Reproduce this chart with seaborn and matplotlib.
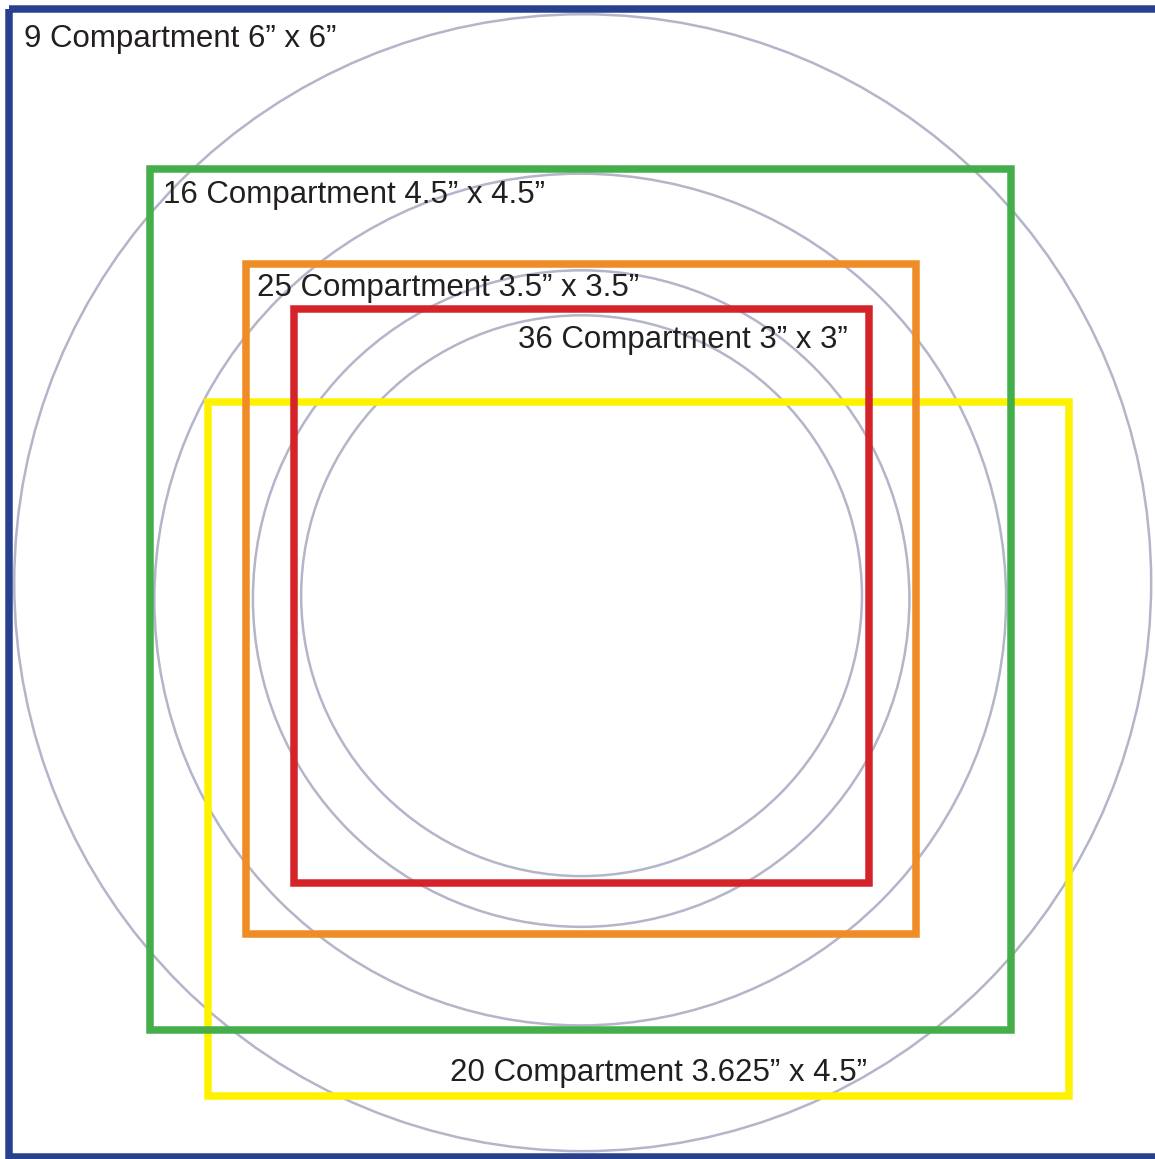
import matplotlib
matplotlib.use("Agg")
import matplotlib.pyplot as plt
from matplotlib.patches import Rectangle, Circle
import seaborn as sns

sns.set_theme(style="white")
plt.rcParams['font.family'] = ['Liberation Sans', 'DejaVu Sans']

# TRAY LAYOUTS (inches)
labels = ['9 Compartment 6\u201d x 6\u201d',
          '16 Compartment 4.5\u201d x 4.5\u201d',
          '25 Compartment 3.5\u201d x 3.5\u201d',
          '36 Compartment 3\u201d x 3\u201d',
          '20 Compartment 3.625\u201d x 4.5\u201d']
widths = [6.0, 4.5, 3.5, 3.0, 4.5]
heights = [6.0, 4.5, 3.5, 3.0, 3.625]
circle_diams = [5.94, 4.45, 3.43, 2.93]

# LAYOUT: CENTRE OF EACH OUTLINE AND LABEL ANCHORS
centres = [(3.0, 3.0), (2.987, 3.088), (2.992, 3.083), (2.994, 3.068), (3.290, 3.871)]
label_pos = [(0.081, 0.20), (0.807, 1.016), (1.298, 1.502), (4.386, 1.773), (2.307, 5.602)]
label_ha = ['left', 'left', 'left', 'right', 'left']
colors = ['#27418f', '#43ae4a', '#ef8c25', '#d5232a', '#fff200']
zorders = [6, 3, 4, 5, 2]

px = 191.4  # pixels per inch on the sheet
fig = plt.figure(figsize=(11.55, 11.59), dpi=100)
ax = fig.add_axes([0, 0, 1, 1])
ax.set_xlim(-8.5 / px, (1155 - 8.5) / px)
ax.set_ylim((1159 - 8.5) / px, -8.5 / px)
ax.axis('off')

# CIRCLES INSIDE EACH SQUARE TRAY
for d, (cx, cy) in zip(circle_diams, centres[:4]):
    ax.add_patch(Circle((cx, cy), d / 2, fill=False, ec='#b3b5c9', lw=1.8, zorder=1))

# TRAY OUTLINES
for w, h, (cx, cy), c, z in zip(widths, heights, centres, colors, zorders):
    ax.add_patch(Rectangle((cx - w / 2, cy - h / 2), w, h, fill=False, ec=c,
                           lw=5.4, joinstyle='miter', zorder=z))

# LABELS
for t, (x, y), ha in zip(labels, label_pos, label_ha):
    ax.text(x, y, t, ha=ha, va='baseline', fontsize=22.5, color='#231f20', zorder=7)

plt.savefig('out.png', dpi=100, facecolor='white')
